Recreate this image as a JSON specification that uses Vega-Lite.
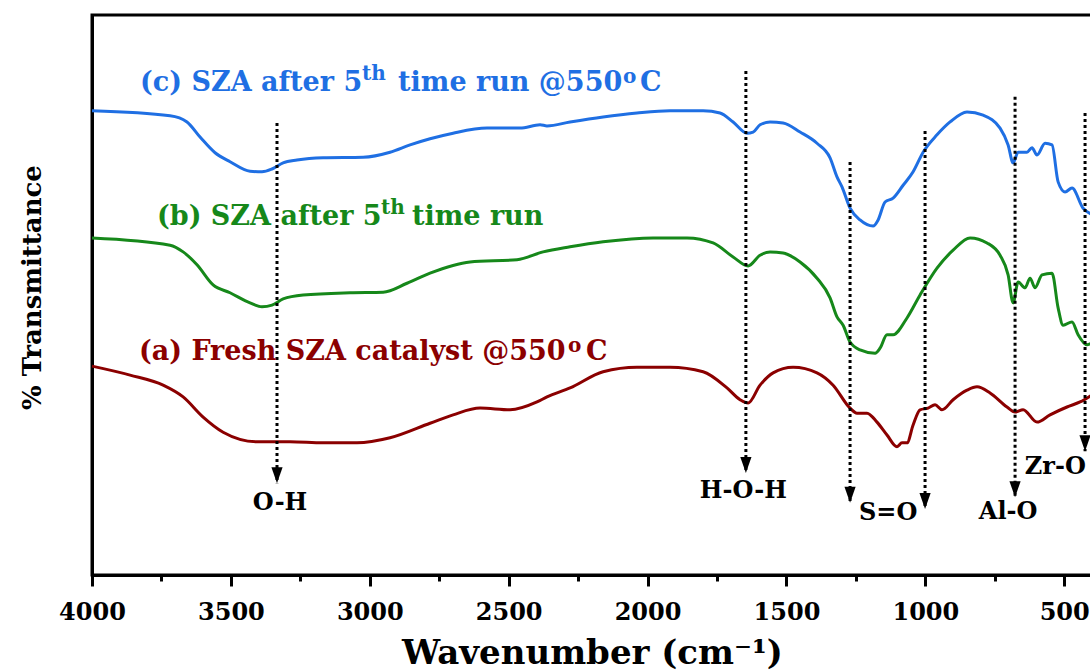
{
  "$schema": "https://vega.github.io/schema/vega-lite/v6.json",
  "width": 1000,
  "height": 560,
  "autosize": "none",
  "padding": {"left": 92, "top": 15, "right": 0, "bottom": 95},
  "background": "white",
  "config": {"view": {"stroke": "black", "strokeWidth": 3}, "font": "DejaVu Serif"},
  "datasets": {
    "spectra": [
      {"s":"c","wn":4000,"t":82.9},{"s":"c","wn":3719,"t":82.0},{"s":"c","wn":3658,"t":80.9},{"s":"c","wn":3611,"t":78.2},{"s":"c","wn":3557,"t":75.4},{"s":"c","wn":3503,"t":73.8},{"s":"c","wn":3431,"t":72.1},{"s":"c","wn":3388,"t":72.0},{"s":"c","wn":3352,"t":72.5},{"s":"c","wn":3312,"t":73.6},{"s":"c","wn":3262,"t":74.1},{"s":"c","wn":3168,"t":74.5},{"s":"c","wn":3024,"t":74.6},{"s":"c","wn":2927,"t":75.5},{"s":"c","wn":2855,"t":76.8},{"s":"c","wn":2783,"t":77.9},{"s":"c","wn":2700,"t":78.9},{"s":"c","wn":2578,"t":79.8},{"s":"c","wn":2459,"t":79.8},{"s":"c","wn":2387,"t":80.4},{"s":"c","wn":2362,"t":80.2},{"s":"c","wn":2279,"t":80.9},{"s":"c","wn":2160,"t":81.8},{"s":"c","wn":2038,"t":82.5},{"s":"c","wn":1919,"t":82.9},{"s":"c","wn":1800,"t":82.9},{"s":"c","wn":1739,"t":82.5},{"s":"c","wn":1692,"t":80.9},{"s":"c","wn":1642,"t":78.9},{"s":"c","wn":1620,"t":79.1},{"s":"c","wn":1595,"t":80.4},{"s":"c","wn":1559,"t":80.9},{"s":"c","wn":1512,"t":80.7},{"s":"c","wn":1451,"t":79.1},{"s":"c","wn":1390,"t":77.1},{"s":"c","wn":1343,"t":74.5},{"s":"c","wn":1318,"t":71.1},{"s":"c","wn":1300,"t":69.3},{"s":"c","wn":1271,"t":65.5},{"s":"c","wn":1235,"t":63.4},{"s":"c","wn":1188,"t":62.3},{"s":"c","wn":1170,"t":63.4},{"s":"c","wn":1145,"t":66.6},{"s":"c","wn":1116,"t":67.3},{"s":"c","wn":1080,"t":69.6},{"s":"c","wn":1044,"t":72.0},{"s":"c","wn":1008,"t":75.5},{"s":"c","wn":958,"t":78.6},{"s":"c","wn":911,"t":80.9},{"s":"c","wn":850,"t":82.7},{"s":"c","wn":792,"t":82.1},{"s":"c","wn":731,"t":79.8},{"s":"c","wn":702,"t":76.8},{"s":"c","wn":684,"t":73.6},{"s":"c","wn":666,"t":75.5},{"s":"c","wn":634,"t":75.5},{"s":"c","wn":616,"t":76.3},{"s":"c","wn":598,"t":75.0},{"s":"c","wn":569,"t":77.1},{"s":"c","wn":544,"t":76.8},{"s":"c","wn":522,"t":70.2},{"s":"c","wn":497,"t":68.4},{"s":"c","wn":472,"t":69.1},{"s":"c","wn":432,"t":65.5},{"s":"c","wn":402,"t":64.4},
      {"s":"b","wn":4000,"t":60.2},{"s":"b","wn":3719,"t":58.9},{"s":"b","wn":3672,"t":57.7},{"s":"b","wn":3622,"t":55.4},{"s":"b","wn":3564,"t":51.8},{"s":"b","wn":3503,"t":50.4},{"s":"b","wn":3431,"t":48.6},{"s":"b","wn":3388,"t":47.9},{"s":"b","wn":3352,"t":48.2},{"s":"b","wn":3312,"t":49.3},{"s":"b","wn":3240,"t":50.0},{"s":"b","wn":3071,"t":50.4},{"s":"b","wn":2952,"t":50.5},{"s":"b","wn":2866,"t":52.1},{"s":"b","wn":2783,"t":53.9},{"s":"b","wn":2639,"t":55.9},{"s":"b","wn":2470,"t":56.3},{"s":"b","wn":2376,"t":57.7},{"s":"b","wn":2279,"t":58.6},{"s":"b","wn":2160,"t":59.5},{"s":"b","wn":1980,"t":60.2},{"s":"b","wn":1858,"t":60.2},{"s":"b","wn":1764,"t":59.3},{"s":"b","wn":1692,"t":56.8},{"s":"b","wn":1638,"t":55.2},{"s":"b","wn":1595,"t":57.1},{"s":"b","wn":1559,"t":57.7},{"s":"b","wn":1512,"t":57.5},{"s":"b","wn":1451,"t":55.9},{"s":"b","wn":1390,"t":53.0},{"s":"b","wn":1343,"t":49.5},{"s":"b","wn":1318,"t":46.1},{"s":"b","wn":1296,"t":44.6},{"s":"b","wn":1271,"t":41.6},{"s":"b","wn":1235,"t":40.2},{"s":"b","wn":1181,"t":39.6},{"s":"b","wn":1163,"t":40.5},{"s":"b","wn":1138,"t":42.9},{"s":"b","wn":1116,"t":42.9},{"s":"b","wn":1066,"t":45.9},{"s":"b","wn":1019,"t":50.0},{"s":"b","wn":958,"t":54.8},{"s":"b","wn":900,"t":58.0},{"s":"b","wn":839,"t":60.2},{"s":"b","wn":778,"t":59.3},{"s":"b","wn":731,"t":57.1},{"s":"b","wn":702,"t":53.6},{"s":"b","wn":684,"t":48.6},{"s":"b","wn":666,"t":52.3},{"s":"b","wn":641,"t":51.3},{"s":"b","wn":623,"t":53.0},{"s":"b","wn":605,"t":51.3},{"s":"b","wn":580,"t":53.6},{"s":"b","wn":544,"t":53.9},{"s":"b","wn":522,"t":47.7},{"s":"b","wn":504,"t":44.6},{"s":"b","wn":472,"t":45.2},{"s":"b","wn":450,"t":42.9},{"s":"b","wn":418,"t":41.1},{"s":"b","wn":402,"t":41.4},
      {"s":"a","wn":4000,"t":37.3},{"s":"a","wn":3863,"t":35.7},{"s":"a","wn":3744,"t":33.9},{"s":"a","wn":3672,"t":31.8},{"s":"a","wn":3600,"t":28.2},{"s":"a","wn":3528,"t":25.5},{"s":"a","wn":3406,"t":23.8},{"s":"a","wn":3287,"t":23.8},{"s":"a","wn":3168,"t":23.6},{"s":"a","wn":3046,"t":23.6},{"s":"a","wn":2927,"t":24.5},{"s":"a","wn":2783,"t":27.1},{"s":"a","wn":2700,"t":28.6},{"s":"a","wn":2603,"t":29.8},{"s":"a","wn":2495,"t":29.5},{"s":"a","wn":2398,"t":30.9},{"s":"a","wn":2362,"t":31.8},{"s":"a","wn":2279,"t":33.4},{"s":"a","wn":2160,"t":36.3},{"s":"a","wn":2038,"t":37.1},{"s":"a","wn":1919,"t":37.1},{"s":"a","wn":1800,"t":36.3},{"s":"a","wn":1714,"t":33.4},{"s":"a","wn":1667,"t":31.3},{"s":"a","wn":1638,"t":30.7},{"s":"a","wn":1595,"t":33.9},{"s":"a","wn":1548,"t":36.1},{"s":"a","wn":1476,"t":37.1},{"s":"a","wn":1390,"t":36.1},{"s":"a","wn":1332,"t":33.9},{"s":"a","wn":1271,"t":29.8},{"s":"a","wn":1246,"t":28.9},{"s":"a","wn":1210,"t":28.9},{"s":"a","wn":1174,"t":27.3},{"s":"a","wn":1138,"t":25.0},{"s":"a","wn":1102,"t":22.9},{"s":"a","wn":1084,"t":23.6},{"s":"a","wn":1066,"t":23.6},{"s":"a","wn":1044,"t":26.8},{"s":"a","wn":1019,"t":29.5},{"s":"a","wn":990,"t":29.8},{"s":"a","wn":965,"t":30.4},{"s":"a","wn":940,"t":29.5},{"s":"a","wn":900,"t":31.3},{"s":"a","wn":850,"t":33.0},{"s":"a","wn":814,"t":33.6},{"s":"a","wn":767,"t":32.5},{"s":"a","wn":706,"t":30.0},{"s":"a","wn":677,"t":29.1},{"s":"a","wn":648,"t":29.5},{"s":"a","wn":598,"t":27.3},{"s":"a","wn":551,"t":28.6},{"s":"a","wn":490,"t":30.0},{"s":"a","wn":443,"t":30.9},{"s":"a","wn":402,"t":32.1}
    ],
    "arrows": [
      {"band":"O-H","wn":3334,"top":80.7,"tip":16.4},
      {"band":"H-O-H","wn":1646,"top":90.0,"tip":18.2},
      {"band":"S=O (1)","wn":1271,"top":73.75,"tip":12.9},
      {"band":"S=O (2)","wn":1001,"top":79.3,"tip":11.8},
      {"band":"Al-O","wn":677,"top":85.4,"tip":13.9},
      {"band":"Zr-O","wn":425,"top":82.5,"tip":22.1}
    ],
    "bandLabels": [
      {"text":"O-H","wn":3323,"t":12.9},
      {"text":"H-O-H","wn":1655,"t":15.0},
      {"text":"S=O","wn":1134,"t":11.1},
      {"text":"Al-O","wn":702,"t":11.25},
      {"text":"Zr-O","wn":532,"t":19.3}
    ],
    "seriesLabels": [
      {"s":"c","part":"main","text":"(c) SZA after 5","wn":3827,"t":86.43},
      {"s":"c","part":"sup","text":"th","wn":3028,"t":88.39},
      {"s":"c","part":"main","text":"time run @550","wn":2898,"t":86.43},
      {"s":"c","part":"sup","text":"o","wn":2088,"t":87.86},
      {"s":"c","part":"main","text":"C","wn":2027,"t":86.43},
      {"s":"b","part":"main","text":"(b) SZA after 5","wn":3766,"t":62.5},
      {"s":"b","part":"sup","text":"th","wn":2960,"t":64.46},
      {"s":"b","part":"main","text":"time run","wn":2848,"t":62.5},
      {"s":"a","part":"main","text":"(a) Fresh SZA catalyst @550","wn":3831,"t":38.39},
      {"s":"a","part":"sup","text":"o","wn":2286,"t":39.82},
      {"s":"a","part":"main","text":"C","wn":2222,"t":38.39}
    ]
  },
  "layer": [
    {
      "data": {"name": "spectra"},
      "mark": {"type": "line", "strokeWidth": 3, "interpolate": "monotone"},
      "encoding": {
        "x": {
          "field": "wn", "type": "quantitative",
          "scale": {"domain": [4000, 400], "nice": false, "zero": false},
          "axis": {
            "values": [4000,3750,3500,3250,3000,2750,2500,2250,2000,1750,1500,1250,1000,750,500],
            "labelExpr": "datum.value % 500 == 0 ? format(datum.value, 'd') : ''",
            "tickSize": {"condition": {"test": "datum.value % 500 == 0", "value": 11}, "value": 6},
            "tickWidth": 3, "tickColor": "black",
            "domainWidth": 3, "domainColor": "black",
            "grid": false,
            "labelFont": "DejaVu Serif", "labelFontWeight": "bold", "labelFontSize": 24, "labelColor": "black",
            "labelPadding": 14, "labelFlush": false, "labelOverlap": false,
            "title": "Wavenumber (cm⁻¹)",
            "titleFont": "DejaVu Serif", "titleFontWeight": "bold", "titleFontSize": 34, "titleColor": "black",
            "titlePadding": 12
          }
        },
        "y": {
          "field": "t", "type": "quantitative",
          "scale": {"domain": [0, 100], "nice": false},
          "axis": {
            "ticks": false, "labels": false, "grid": false,
            "domainWidth": 3, "domainColor": "black",
            "title": "% Transmittance",
            "titleFont": "DejaVu Serif", "titleFontWeight": "bold", "titleFontSize": 26, "titleColor": "black",
            "titlePadding": 47, "titleY": 272
          }
        },
        "color": {
          "field": "s", "type": "nominal",
          "scale": {"domain": ["a", "b", "c"], "range": ["#8B0000", "#16881A", "#1F6FE3"]},
          "legend": null
        }
      }
    },
    {
      "data": {"name": "arrows"},
      "mark": {"type": "rule", "strokeWidth": 3, "strokeDash": [3, 3], "color": "black"},
      "encoding": {
        "x": {"field": "wn", "type": "quantitative"},
        "y": {"field": "top", "type": "quantitative"},
        "y2": {"field": "tip"}
      }
    },
    {
      "data": {"name": "arrows"},
      "mark": {"type": "point", "filled": true, "shape": "M-0.7,-2L0.7,-2L0,0Z", "size": 256, "color": "black", "opacity": 1},
      "encoding": {
        "x": {"field": "wn", "type": "quantitative"},
        "y": {"field": "tip", "type": "quantitative"}
      }
    },
    {
      "data": {"name": "bandLabels"},
      "mark": {"type": "text", "font": "DejaVu Serif", "fontWeight": "bold", "fontSize": 24, "color": "black", "align": "center", "baseline": "middle"},
      "encoding": {
        "x": {"field": "wn", "type": "quantitative"},
        "y": {"field": "t", "type": "quantitative"},
        "text": {"field": "text"}
      }
    },
    {
      "data": {"name": "seriesLabels"},
      "transform": [{"filter": "datum.part == 'main'"}],
      "mark": {"type": "text", "font": "DejaVu Serif", "fontWeight": "bold", "fontSize": 27, "align": "left", "baseline": "alphabetic"},
      "encoding": {
        "x": {"field": "wn", "type": "quantitative"},
        "y": {"field": "t", "type": "quantitative"},
        "text": {"field": "text"},
        "color": {"field": "s", "type": "nominal", "legend": null}
      }
    },
    {
      "data": {"name": "seriesLabels"},
      "transform": [{"filter": "datum.part == 'sup'"}],
      "mark": {"type": "text", "font": "DejaVu Serif", "fontWeight": "bold", "fontSize": 20, "align": "left", "baseline": "alphabetic"},
      "encoding": {
        "x": {"field": "wn", "type": "quantitative"},
        "y": {"field": "t", "type": "quantitative"},
        "text": {"field": "text"},
        "color": {"field": "s", "type": "nominal", "legend": null}
      }
    }
  ]
}
